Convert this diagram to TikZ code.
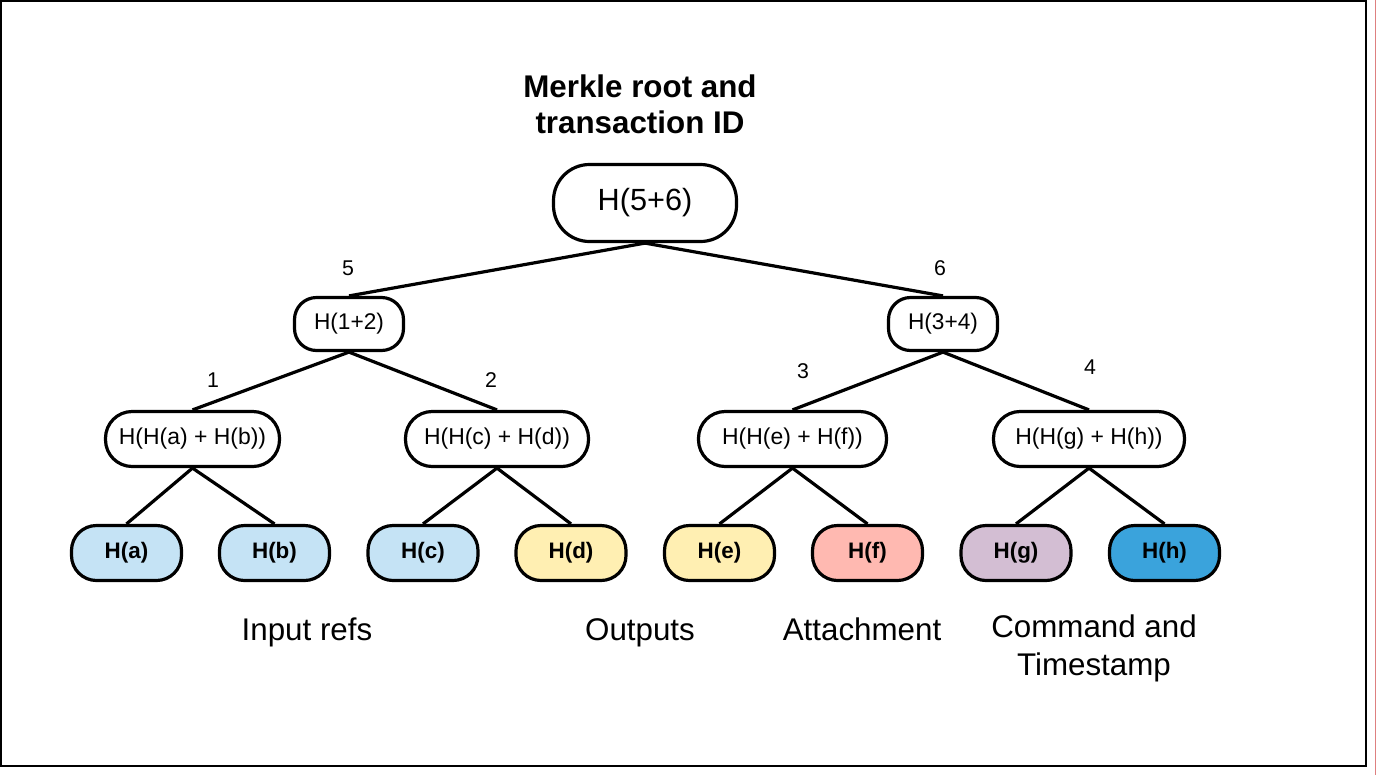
\documentclass[tikz,border=0pt]{standalone}
\usepackage{fontspec}
\setmainfont{Liberation Sans}
\definecolor{lblue}{RGB}{197,227,245}
\definecolor{lyellow}{RGB}{255,239,178}
\definecolor{lpink}{RGB}{255,185,177}
\definecolor{lpurple}{RGB}{211,190,211}
\definecolor{dblue}{RGB}{58,163,220}
\definecolor{edgepink}{RGB}{222,128,128}
\begin{document}
\begin{tikzpicture}[x=0.75pt,y=-0.75pt,
  box/.style={draw=black,line width=2.4pt,inner sep=0pt,align=center},
  rootbox/.style={box,minimum width=137.25pt,minimum height=57.75pt,rounded corners=27pt,font=\fontsize{23}{27}\selectfont},
  midbox/.style={box,minimum width=81.75pt,minimum height=39.75pt,rounded corners=16.5pt,font=\fontsize{17}{20}\selectfont},
  lowbox/.style={box,minimum height=41.25pt,rounded corners=20pt,font=\fontsize{17.2}{20}\selectfont},
  leaf/.style={box,minimum width=82.5pt,minimum height=41.25pt,rounded corners=18.75pt,font=\bfseries\fontsize{16.8}{20}\selectfont},
  edge/.style={draw=black,line width=2.4pt},
  num/.style={inner sep=0pt,font=\fontsize{16}{18}\selectfont},
  caption/.style={inner sep=0pt,anchor=base,align=center,font=\fontsize{23.5}{28.5}\selectfont}
]
\useasboundingbox (0,0) rectangle (1377,775);
\fill[white] (0,0) rectangle (1377,775);
\draw[black,line width=1.5pt] (1,1) rectangle (1366,766);
\draw[edgepink,line width=1.1pt] (1375.5,0) -- (1375.5,775);

% title (base anchor = last line baseline)
\node[inner sep=0pt,anchor=base,align=center,font=\bfseries\fontsize{23.5}{27}\selectfont] (title) at (640,133) {Merkle root and\\transaction ID};

% nodes
\node[rootbox] (root) at (645,203) {H(5+6)};
\node[midbox] (n12) at (349,324) {H(1+2)};
\node[midbox] (n34) at (943,324) {H(3+4)};

\node[lowbox,minimum width=130.5pt] (nab) at (192.5,439) {H(H(a) + H(b))};
\node[lowbox,minimum width=137.25pt] (ncd) at (497,439) {H(H(c) + H(d))};
\node[lowbox,minimum width=141pt] (nef) at (792.5,439) {H(H(e) + H(f))};
\node[lowbox,minimum width=143.25pt] (ngh) at (1089,439) {H(H(g) + H(h))};

\node[leaf,fill=lblue] (ha) at (126.5,553) {H(a)};
\node[leaf,fill=lblue] (hb) at (274.5,553) {H(b)};
\node[leaf,fill=lblue] (hc) at (423,553) {H(c)};
\node[leaf,fill=lyellow] (hd) at (571,553) {H(d)};
\node[leaf,fill=lyellow] (he) at (719.5,553) {H(e)};
\node[leaf,fill=lpink] (hf) at (867.5,553) {H(f)};
\node[leaf,fill=lpurple] (hg) at (1016,553) {H(g)};
\node[leaf,fill=dblue] (hh) at (1164.5,553) {H(h)};

% edges
\draw[edge] (root.south) -- (n12.north);
\draw[edge] (root.south) -- (n34.north);
\draw[edge] (n12.south) -- (nab.north);
\draw[edge] (n12.south) -- (ncd.north);
\draw[edge] (n34.south) -- (nef.north);
\draw[edge] (n34.south) -- (ngh.north);
\draw[edge] (nab.south) -- (ha.north);
\draw[edge] (nab.south) -- (hb.north);
\draw[edge] (ncd.south) -- (hc.north);
\draw[edge] (ncd.south) -- (hd.north);
\draw[edge] (nef.south) -- (he.north);
\draw[edge] (nef.south) -- (hf.north);
\draw[edge] (ngh.south) -- (hg.north);
\draw[edge] (ngh.south) -- (hh.north);

% edge numbers
\node[num] (l5) at (348,268) {5};
\node[num] (l6) at (940,268) {6};
\node[num] (l1) at (213,380) {1};
\node[num] (l2) at (491,380) {2};
\node[num] (l3) at (803,371) {3};
\node[num] (l4) at (1090,367) {4};

% captions
\node[caption] (c1) at (307,640) {Input refs};
\node[caption] (c2) at (640,640) {Outputs};
\node[caption] (c3) at (862,640) {Attachment};
\node[caption] (c4) at (1094,675) {Command and\\Timestamp};
\end{tikzpicture}
\end{document}
